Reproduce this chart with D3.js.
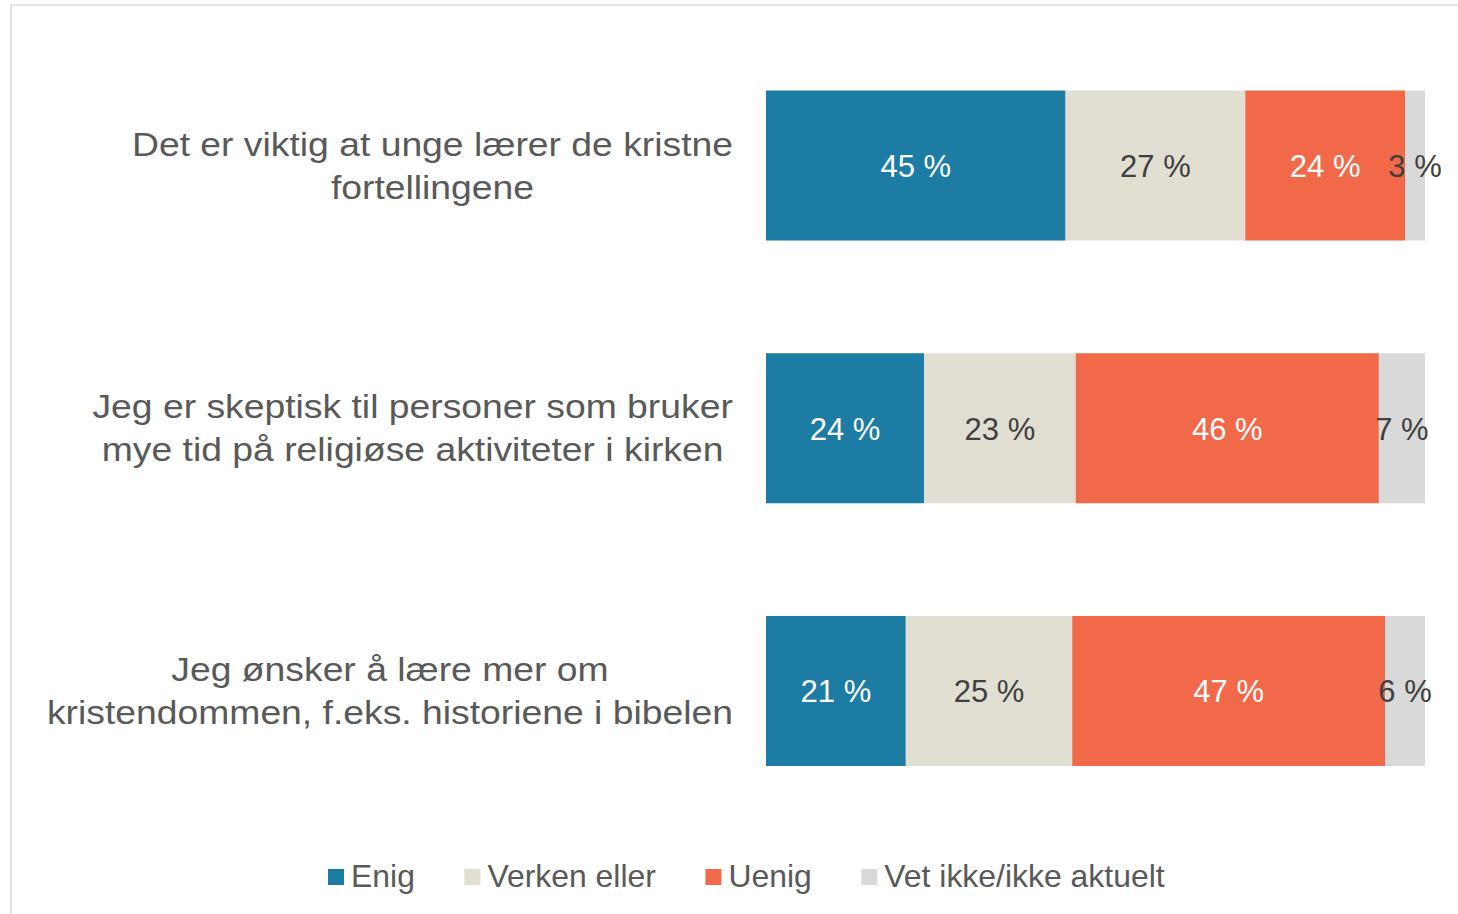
<!DOCTYPE html>
<html>
<head>
<meta charset="utf-8">
<script src="https://cdn.jsdelivr.net/npm/d3@7"></script>
<style>
  html, body { margin: 0; padding: 0; background: #ffffff; }
  svg { display: block; }
  text { font-family: "Liberation Sans", Arial, sans-serif; }
</style>
</head>
<body>
<svg id="chart" width="1458" height="914"></svg>
<script>
// Survey statements (each entry is one bar; lines are drawn as separate rows)
const statements = [
  ["Det er viktig at unge lærer de kristne", "fortellingene"],
  ["Jeg er skeptisk til personer som bruker", "mye tid på religiøse aktiviteter i kirken"],
  ["Jeg ønsker å lære mer om", "kristendommen, f.eks. historiene i bibelen"]
];
const statementKeys = ["s1", "s2", "s3"];

// Answer categories
const answers = ["Enig", "Verken eller", "Uenig", "Vet ikke/ikke aktuelt"];

// Share of respondents (%) per statement, in answer order
const enig        = [45, 24, 21];
const verkenEller = [27, 23, 25];
const uenig       = [24, 46, 47];
const vetIkke     = [3, 7, 6];

const colors = ["#1c7ca3", "#e1ded2", "#f2694a", "#d9d9d9"];
const labelColors = ["#ffffff", "#404040", "#ffffff", "#404040"];

const rows = statementKeys.map((k, i) => ({
  key: k,
  "Enig": enig[i],
  "Verken eller": verkenEller[i],
  "Uenig": uenig[i],
  "Vet ikke/ikke aktuelt": vetIkke[i]
}));

const svg = d3.select("#chart");

// light frame around the chart area
svg.append("rect")
  .attr("x", 11).attr("y", 5)
  .attr("width", 1470).attr("height", 930)
  .attr("fill", "none")
  .attr("stroke", "#e3e3e3")
  .attr("stroke-width", 2);

const x = d3.scaleLinear().domain([0, 1]).range([766, 1425]);
const y = d3.scaleBand().domain(statementKeys).range([90.5, 766])
  .paddingInner(0.429).paddingOuter(0);
const color = d3.scaleOrdinal().domain(answers).range(colors);
const labelColor = d3.scaleOrdinal().domain(answers).range(labelColors);

const stacked = d3.stack().keys(answers).offset(d3.stackOffsetExpand)(rows);

const layers = svg.append("g").selectAll("g")
  .data(stacked)
  .join("g")
  .attr("fill", d => color(d.key));

layers.selectAll("rect")
  .data(d => d)
  .join("rect")
  .attr("x", d => x(d[0]))
  .attr("y", d => y(d.data.key))
  .attr("width", d => x(d[1]) - x(d[0]))
  .attr("height", y.bandwidth());

// value labels centred in each segment
const labels = svg.append("g")
  .attr("font-size", "31px")
  .attr("text-anchor", "middle");
stacked.forEach(layer => {
  labels.selectAll(null)
    .data(layer)
    .join("text")
    .attr("x", d => (x(d[0]) + x(d[1])) / 2)
    .attr("y", d => y(d.data.key) + y.bandwidth() / 2 + 11.5)
    .attr("fill", labelColor(layer.key))
    .text(d => d.data[layer.key] + " %");
});

// statement labels: lines centred on each other, block right-aligned next to the bars
const labelRight = 733;
const stretch = 1.148;
statementKeys.forEach((k, i) => {
  const cy = y(k) + y.bandwidth() / 2;
  const g = svg.append("g");
  const inner = g.append("g").attr("transform", `scale(${stretch},1)`);
  const t = inner.append("text")
    .attr("font-size", "32.5px")
    .attr("fill", "#595959")
    .attr("text-anchor", "middle");
  statements[i].forEach((line, j) => {
    t.append("tspan")
      .attr("x", 0)
      .attr("y", cy - 10 + j * 43)
      .text(line);
  });
  const bb = inner.node().getBBox();
  const w = bb.width * stretch;
  g.attr("transform", `translate(${labelRight - w / 2},0)`);
});

// legend
const legendStretch = 1.03;
const legend = svg.append("g").attr("transform", "translate(328,869)");
let cursor = 0;
answers.forEach((a, i) => {
  const item = legend.append("g").attr("transform", `translate(${cursor},0)`);
  item.append("rect")
    .attr("width", 16).attr("height", 16)
    .attr("fill", color(a));
  const txt = item.append("g")
    .attr("transform", `translate(23,18) scale(${legendStretch},1)`)
    .append("text")
    .attr("font-size", "31px")
    .attr("fill", "#595959")
    .text(a);
  cursor += 23 + txt.node().getComputedTextLength() * legendStretch + 49.5;
});
</script>
</body>
</html>
